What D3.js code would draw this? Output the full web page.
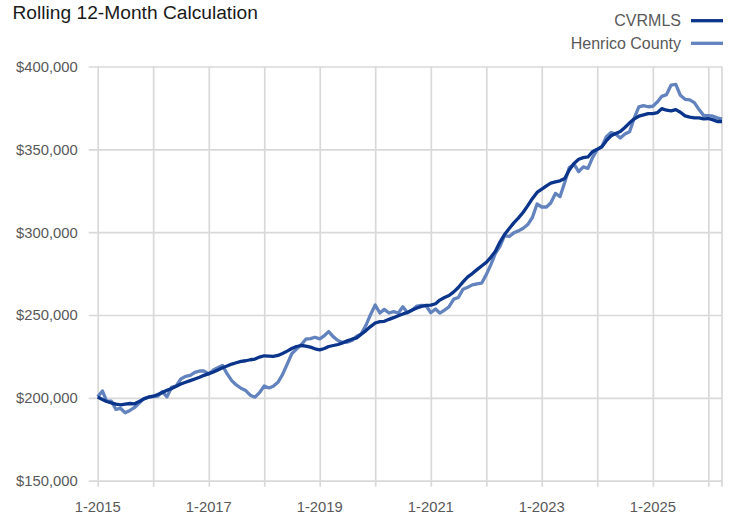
<!DOCTYPE html>
<html>
<head>
<meta charset="utf-8">
<script src="https://cdn.jsdelivr.net/npm/d3@7"></script>
<style>
  body { margin: 0; background: #fff; }
  svg text { font-family: "Liberation Sans", Arial, sans-serif; }
</style>
</head>
<body>
<svg class="plot" width="732" height="515"></svg>
<script>

// monthly rolling 12-month median price, 1-2015 .. 4-2026
var startMonth = "2015-01"
var seriesNames = ["CVRMLS", "Henrico County"]

var cvrmls = [
  200.5, 199.0, 197.8, 197.0, 196.2, 195.8, 196.2, 196.6, 196.4, 197.8, 199.4, 200.4,
  201.0, 202.0, 203.2, 204.6, 205.6, 207.0, 208.4, 209.4, 210.4, 211.4, 212.4, 213.6,
  214.6, 215.6, 216.8, 218.2, 219.2, 220.4, 221.2, 222.0, 222.4, 223.0, 223.4, 224.6,
  225.4, 225.2, 225.0, 225.6, 226.8, 228.2, 229.8, 231.0, 231.6, 231.2, 230.6, 229.6,
  229.0, 229.8, 231.0, 231.6, 232.2, 233.2, 234.4, 235.4, 236.2, 238.4, 240.6, 243.0,
  245.2, 246.0, 246.2, 247.4, 248.4, 249.6, 250.6, 251.6, 253.0, 254.2, 255.2, 255.8,
  256.0, 256.8, 259.0, 260.6, 261.8, 264.0, 266.6, 270.0, 273.0, 275.0, 277.4, 279.6,
  281.8, 285.0, 288.4, 294.0, 298.6, 302.2, 305.6, 308.6, 312.0, 316.0, 320.4, 324.0,
  326.0, 328.0, 329.6, 330.4, 331.0, 332.4, 337.5, 341.5, 344.0, 345.0, 345.4, 348.6,
  350.0, 351.6, 355.2, 358.2, 359.6, 360.8, 363.2, 366.0, 368.4, 370.0, 370.8, 371.6,
  371.6, 372.2, 374.6, 373.6, 373.2, 374.0, 372.4, 370.2, 369.4, 369.0, 369.0, 368.4,
  368.6, 367.8, 366.8, 366.8
]

var henrico = [
  200.6, 204.2, 198.0, 198.0, 193.0, 193.6, 191.0, 192.4, 194.2, 196.8, 199.6, 200.4,
  200.8, 201.0, 203.8, 200.6, 206.4, 207.2, 211.4, 213.0, 213.6, 215.4, 216.2, 216.2,
  214.4, 216.8, 218.2, 219.6, 214.6, 210.4, 207.8, 205.8, 204.4, 201.6, 200.4, 203.2,
  207.2, 206.0, 207.0, 209.4, 214.0, 220.4, 226.6, 229.4, 232.0, 235.4, 235.8, 236.6,
  235.6, 237.6, 240.0, 236.8, 234.6, 233.4, 233.6, 234.6, 237.2, 238.6, 243.8, 250.2,
  256.0, 251.2, 253.4, 251.2, 252.0, 251.2, 255.0, 251.4, 253.0, 255.4, 255.8, 255.6,
  251.4, 253.6, 251.2, 253.0, 255.0, 259.6, 260.6, 265.6, 266.8, 268.2, 268.8, 269.2,
  274.4, 280.6, 287.0, 291.4, 298.0, 297.4, 299.6, 300.8, 302.4, 304.6, 309.0, 317.0,
  315.2, 315.2, 317.6, 323.4, 321.4, 330.0, 339.0, 341.0, 336.5, 339.4, 338.5, 345.0,
  349.8, 351.8, 357.6, 360.2, 359.2, 356.8, 359.2, 360.6, 369.0, 375.6, 376.4, 375.7,
  376.0, 378.7, 382.0, 383.0, 388.8, 389.2, 382.6, 380.2, 379.9, 378.2, 374.0, 370.5,
  370.3, 370.0, 369.0, 368.2
]

var yTicks = [150000, 200000, 250000, 300000, 350000, 400000]
var xLabelYears = [2015, 2017, 2019, 2021, 2023, 2025]

var colors = ["#0b348b", "#6383bf"]
var gridColor = "#d9d9d9"
var labelColor = "#595959"

var margin = {top: 66.5, right: 10, bottom: 34.3, left: 97.7},
    width = 732 - margin.left - margin.right,
    height = 515 - margin.top - margin.bottom

var parseMonth = d3.timeParse("%Y-%m")
var start = parseMonth(startMonth)

function toRows(values) {
  return values.map(function(v, i) {
    return {date: d3.timeMonth.offset(start, i), value: v * 1000}
  })
}
var series = [toRows(cvrmls), toRows(henrico)]

var x = d3.scaleTime()
  .domain([start, d3.timeMonth.offset(start, cvrmls.length - 1)])
  .range([0, width])

var y = d3.scaleLinear()
  .domain([150000, 400000])
  .range([height, 0])

var svg = d3.select(".plot")
var plot = svg.append("g")
  .attr("transform", `translate(${margin.left}, ${margin.top})`)

// horizontal grid + left ticks
plot.append("g")
  .call(d3.axisLeft(y).tickValues(yTicks).tickSize(-width - 9).tickFormat(""))
  .attr("transform", "translate(-9,0)")
  .call(g => g.select(".domain").remove())
  .call(g => g.selectAll("line").attr("stroke", gridColor).attr("stroke-width", 1.7).attr("x1", 0).attr("x2", width + 9))

// vertical grid at every january, plus right edge
var years = d3.timeYear.range(start, x.domain()[1])
plot.append("g")
  .call(d3.axisBottom(x).tickValues(years).tickSize(height + 6).tickFormat(""))
  .call(g => g.select(".domain").remove())
  .call(g => g.selectAll("line").attr("stroke", gridColor).attr("stroke-width", 1.7))

plot.append("line")
  .attr("x1", width).attr("x2", width)
  .attr("y1", 0).attr("y2", height + 6)
  .attr("stroke", gridColor).attr("stroke-width", 1.7)

// y labels
plot.append("g")
  .selectAll("text")
  .data(yTicks)
  .enter()
  .append("text")
  .attr("x", -20)
  .attr("y", d => y(d))
  .attr("dy", "0.36em")
  .attr("text-anchor", "end")
  .attr("font-size", 14.8)
  .attr("fill", labelColor)
  .text(d => d3.format("$,")(d))

// x labels every other year
plot.append("g")
  .selectAll("text")
  .data(xLabelYears)
  .enter()
  .append("text")
  .attr("x", d => x(new Date(d, 0, 1)))
  .attr("y", height + 30.8)
  .attr("text-anchor", "middle")
  .attr("font-size", 14.8)
  .attr("fill", labelColor)
  .text(d => "1-" + d)

// lines, lighter series drawn first
var line = d3.line()
  .x(d => x(d.date))
  .y(d => y(d.value))

plot.selectAll(".series")
  .data([series[1], series[0]])
  .enter()
  .append("path")
  .attr("class", "series")
  .attr("d", line)
  .attr("fill", "none")
  .attr("stroke", (d, i) => i == 0 ? colors[1] : colors[0])
  .attr("stroke-width", 3.3)
  .attr("stroke-linejoin", "round")

// title
svg.append("text")
  .attr("x", 12.5)
  .attr("y", 18.5)
  .attr("font-size", 19.2)
  .attr("fill", "#1a1a1a")
  .text("Rolling 12-Month Calculation")

// legend
var legend = svg.append("g")
  .selectAll("g")
  .data(seriesNames)
  .enter()
  .append("g")
  .attr("transform", (d, i) => `translate(0, ${20.7 + i * 22.6})`)

legend.append("text")
  .attr("x", 681)
  .attr("dy", "0.36em")
  .attr("text-anchor", "end")
  .attr("font-size", 16)
  .attr("fill", labelColor)
  .text(d => d)

legend.append("line")
  .attr("x1", 691).attr("x2", 723)
  .attr("stroke", (d, i) => colors[i])
  .attr("stroke-width", 3.3)

</script>
</body>
</html>
